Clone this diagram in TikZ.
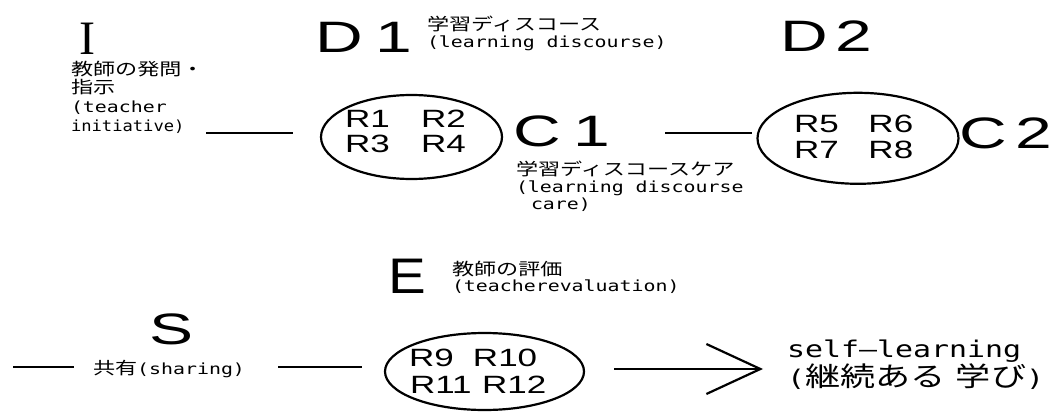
\documentclass[tikz,border=0pt]{standalone}
\usepackage{fontspec}
\usepackage{graphicx}
\usetikzlibrary{shapes.geometric,arrows.meta}
\setmainfont{Liberation Sans}
\newfontfamily\jpfont{Noto Sans CJK JP}
\newfontfamily\labmono{DejaVu Sans Mono}
\newfontfamily\capsans{Liberation Sans}
\newfontfamily\capserif{Liberation Serif}

% widened lettering used throughout the figure
\newcommand\sx[1]{\scalebox{1.3}[1]{#1}}
\newcommand\jsm[1]{{\jpfont\fontsize{17pt}{17pt}\selectfont #1}}
\newcommand\esm[1]{{\labmono\fontsize{15.3pt}{15.3pt}\selectfont #1}}
\newcommand\jlg[1]{{\jpfont\fontsize{27pt}{27pt}\selectfont #1}}
\newcommand\elg[1]{{\labmono\fontsize{23pt}{23pt}\selectfont #1}}
\newcommand\capital[1]{\scalebox{1.5}[1]{\capsans\fontsize{44pt}{44pt}\selectfont #1}}
\newcommand\rlab[1]{\scalebox{1.4}[1]{\capsans\fontsize{25pt}{25pt}\selectfont #1}}

\tikzset{
  txt/.style={anchor=base west, inner sep=0pt, outer sep=0pt},
  oval/.style={draw, ellipse, line width=2.2pt, inner sep=0pt},
  rule/.style={line width=2.2pt},
}

\begin{document}
\begin{tikzpicture}[x=1pt,y=-1pt]
\fill[white] (0,0) rectangle (1058,412);
\useasboundingbox (0,0) rectangle (1058,412);

% ---- teacher initiative ----
\node[anchor=base, inner sep=0pt] (I) at (87.5,55) {\capserif\fontsize{48pt}{48pt}\selectfont I};
\node[txt] (ia) at (71,76)  {\sx{\jsm{教師の発問・}}};
\node[txt] (ib) at (71,93.5){\sx{\jsm{指示}}};
\node[txt] (ic) at (71,112) {\sx{\esm{(teacher}}};
\node[txt] (id) at (71,131) {\scalebox{1.12}[1]{\esm{initiative)}}};

% ---- learning discourse ----
\node[txt] (D1) at (315,53) {\capital{D\kern0.2em 1}};
\node[txt] (d1a) at (427,31) {\sx{\jsm{学習ディスコース}}};
\node[txt] (d1b) at (427,48) {\sx{\esm{(learning discourse)}}};
\node[txt] (D2) at (780,52) {\capital{D\kern0.12em 2}};

% ---- first group ----
\node[oval, minimum width=181pt, minimum height=84pt] (e1) at (411.5,137) {};
\node[txt] (r12) at (345,128) {\rlab{R1\hspace{0.9em}R2}};
\node[txt] (r34) at (345,152) {\rlab{R3\hspace{0.9em}R4}};

\node[txt] (C1) at (513,146) {\capital{C\kern0.19em 1}};
\node[txt] (c1a) at (516,175.5) {\sx{\jsm{学習ディスコースケア}}};
\node[txt] (c1b) at (516,192.5) {\sx{\esm{(learning discourse}}};
\node[txt] (c1c) at (531,209.5) {\sx{\esm{care)}}};

% ---- second group ----
\node[oval, minimum width=201pt, minimum height=91pt] (e2) at (858,138.3) {};
\node[txt] (r56) at (794,132) {\rlab{R5\hspace{0.85em}R6}};
\node[txt] (r78) at (794,158) {\rlab{R7\hspace{0.85em}R8}};
\node[txt] (C2) at (959,148) {\capital{C\kern0.13em 2}};

% ---- evaluation ----
\node[txt] (E) at (388.5,293) {\scalebox{1.13}[1]{\capsans\fontsize{50pt}{50pt}\selectfont E}};
\node[txt] (ea) at (452,275.5) {\sx{\jsm{教師の評価}}};
\node[txt] (eb) at (452,291.5) {\sx{\esm{(teacherevaluation)}}};

% ---- sharing ----
\node[txt] (S) at (149,344) {\capital{S}};
\node[txt] (sh) at (93,374) {\sx{\jsm{共有}\esm{(sharing)}}};

\node[oval, minimum width=199pt, minimum height=77pt] (e3) at (484.5,371.5) {};
\node[txt] (r910) at (409,366) {\rlab{R9\hspace{0.55em}R10}};
\node[txt] (r1112) at (410,393) {\rlab{R11\hspace{0.3em}R12}};

% ---- outcome ----
\node[txt] (sl) at (787,357) {\sx{\elg{self—learning}}};
\node[txt] (slj) at (787,386) {\sx{\elg{(}\jlg{継続ある\kern0.3em 学び}\elg{)}}};

% ---- connectors ----
\coordinate (l1a) at (206,133); \coordinate (l1b) at (293,133);
\coordinate (l2a) at (665,133); \coordinate (l2b) at (752,133);
\coordinate (l3a) at (13,367);  \coordinate (l3b) at (74,367);
\coordinate (l4a) at (278,367); \coordinate (l4b) at (362,367);
\coordinate (l5a) at (614,369); \coordinate (l5b) at (763,369);
\draw[rule] (l1a) -- (l1b);
\draw[rule] (l2a) -- (l2b);
\draw[rule] (l3a) -- (l3b);
\draw[rule] (l4a) -- (l4b);
\draw[rule, -{Straight Barb[length=54pt,width=50pt]}] (l5a) -- (l5b);
\end{tikzpicture}
\end{document}
